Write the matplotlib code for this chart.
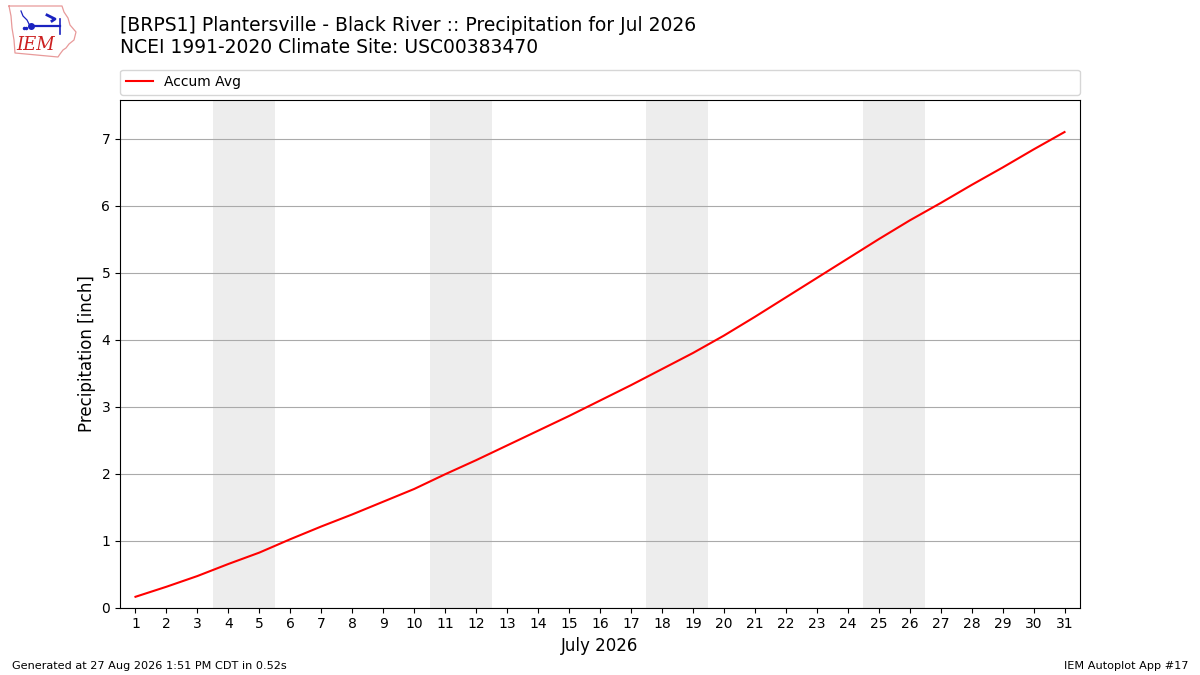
import matplotlib
matplotlib.use("Agg")
import matplotlib.pyplot as plt

# data
days = list(range(1, 32))
accum_avg = [
    0.16, 0.31, 0.47, 0.65, 0.82, 1.02, 1.21, 1.39, 1.58, 1.77,
    1.99, 2.20, 2.42, 2.64, 2.86, 3.09, 3.32, 3.56, 3.80, 4.06,
    4.34, 4.63, 4.92, 5.21, 5.50, 5.78, 6.04, 6.31, 6.57, 6.84,
    7.10,
]
weekend_starts = [4, 11, 18, 25]  # Saturdays in July 2026

title = ("[BRPS1] Plantersville - Black River :: Precipitation for Jul 2026\n"
         "NCEI 1991-2020 Climate Site: USC00383470")

fig = plt.figure(figsize=(12, 6.75), dpi=100)
ax = fig.add_axes([0.1, 0.1, 0.8, 0.752])

for d in weekend_starts:
    ax.axvspan(d - 0.5, d + 1.5, color="#ededed", zorder=0, lw=0)

ax.plot(days, accum_avg, color="r", lw=1.5, label="Accum Avg", zorder=3)

ax.set_xlim(0.5, 31.5)
ax.set_ylim(0, 7.58)
ax.set_xticks(days)
ax.set_xticklabels([str(d) for d in days])
ax.set_yticks(range(0, 8))
ax.grid(True, axis="y", color="#aaaaaa", lw=0.8)
ax.set_axisbelow(True)
ax.set_xlabel("July 2026", fontsize=12)
ax.set_ylabel("Precipitation [inch]", fontsize=12)

ax.legend(loc="lower left", bbox_to_anchor=(0, 1.01, 1, 0.05), mode="expand",
          ncol=1, fontsize=10, frameon=True, borderaxespad=0)

fig.text(0.1, 0.977, title, fontsize=13.5, va="top", ha="left", linespacing=1.25)

fig.text(0.01, 0.009, "Generated at 27 Aug 2026 1:51 PM CDT in 0.52s", fontsize=8.1)
fig.text(0.99, 0.009, "IEM Autoplot App #17", fontsize=8.1, ha="right")

# rough IEM logo, axes in pixel units of the top-left corner
logo = fig.add_axes([0, 1 - 65 / 675, 90 / 1200, 65 / 675])
logo.set_xlim(0, 90)
logo.set_ylim(65, 0)
logo.axis("off")
outline_x = [9, 62, 64, 68, 70, 76, 74, 69, 66, 63, 60, 58, 15, 14, 12, 11, 9]
outline_y = [6, 6, 12, 18, 25, 32, 40, 44, 48, 50, 54, 57, 53, 40, 28, 16, 6]
logo.plot(outline_x, outline_y, color="#e89a9a", lw=0.9)
logo.plot([31, 60], [26, 26], color="#1a22c0", lw=1.6)
logo.plot([31], [26], "o", color="#1a22c0", ms=4)
logo.plot([60, 60], [19, 34], color="#1a22c0", lw=1.2)
logo.plot([47, 55, 52], [15, 19, 21], color="#1a22c0", lw=2.0)
logo.plot([21, 23, 27, 30], [11, 16, 20, 26], color="#1a22c0", lw=0.9)
logo.plot([24, 26], [28, 28], "o", color="#1a22c0", ms=1.5)
logo.text(36, 45, "IEM", color="#cc2020", fontsize=13, family="DejaVu Serif",
          style="italic", ha="center", va="center")

fig.savefig("out.png", dpi=100)
